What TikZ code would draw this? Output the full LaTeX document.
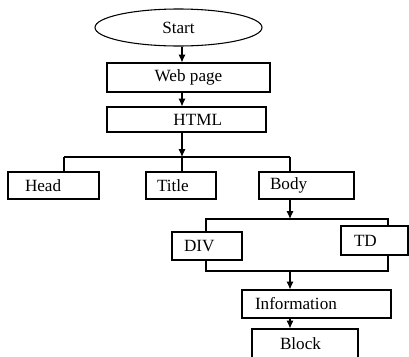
\documentclass[tikz,border=0pt]{standalone}
\usepackage{fontspec}
\setmainfont{Liberation Serif}
\usetikzlibrary{shapes.geometric, arrows.meta}

\begin{document}
\begin{tikzpicture}[x=0.7pt, y=-0.7pt, >={Latex[length=5.5pt, width=5pt]}, line width=0.75pt,
    font=\fontsize{12}{14}\selectfont,
    box/.style={draw, rectangle, fill=white, minimum height=#1}, box/.default=19.6pt]
    \path[use as bounding box, clip] (0,0) rectangle (409,356);
    \fill[white] (0,0) rectangle (409,356);

    % junctions and the frame round DIV / TD
    \coordinate (hub) at (182,157);
    \coordinate (hl) at (64,157);
    \coordinate (hr) at (290,157);
    \coordinate (ftop) at (290,219);
    \coordinate (fbot) at (290,271);
    \draw (206,219) rectangle (388,271);

    \node (start) [draw, ellipse, minimum width=116.9pt, minimum height=25.9pt] at (178.5,27.5) {Start};
    \node (web) [box=20.3pt, minimum width=114.1pt] at (188.5,77.5) {Web page};
    \node (html) [box=17.5pt, align=right, text width=49.7pt, inner xsep=30.8pt] at (186.5,119.5) {HTML};
    \node (head) [box=18.9pt, align=left, text width=39.9pt, inner xsep=11.9pt] at (53.5,185.5) {Head};
    \node (title) [box=18.9pt, align=left, text width=33.6pt, inner xsep=7.7pt] at (181,185.5) {Title};
    \node (body) [box=18.9pt, align=left, text width=51.1pt, inner xsep=7.7pt] at (306.5,185.5) {Body};
    \node (div) [box=19.6pt, align=left, text width=32.2pt, inner xsep=8.4pt] at (207,246) {DIV};
    \node (td) [box=20.3pt, align=left, text width=28.7pt, inner xsep=9.1pt] at (374.5,240.5) {TD};
    \node (info) [box=19.6pt, align=left, text width=86.1pt, inner xsep=9.1pt] at (316.5,304) {Information};
    \node (block) [box=20.3pt, align=left, text width=35pt, inner xsep=19.6pt] at (305,343.5) {Block};

    \draw[->] (start.south -| hub) -- (web.north -| hub);
    \draw[->] (web.south -| hub) -- (html.north -| hub);
    \draw[->] (html.south -| hub) -- (hub);
    \draw (hl) -- (hr);
    \draw (hl) -- (head.north -| hl);
    \draw (hub) -- (title.north -| hub);
    \draw (hr) -- (body.north -| hr);
    \draw[->] (body.south -| hr) -- (ftop);
    \draw[->] (fbot) -- (info.north -| fbot);
    \draw[->] (info.south -| fbot) -- (block.north -| fbot);
\end{tikzpicture}
\end{document}
